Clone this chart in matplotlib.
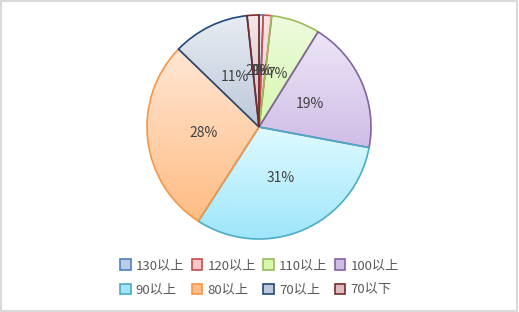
import numpy as np
import matplotlib
matplotlib.use("Agg")
import matplotlib.pyplot as plt
from matplotlib.colors import LinearSegmentedColormap
from matplotlib.patches import Rectangle

plt.rcParams['font.family'] = ['Noto Sans CJK SC', 'DejaVu Sans']

# data (clockwise from 12 o'clock)
labels = ["130以上", "120以上", "110以上", "100以上", "90以上", "80以上", "70以上", "70以下"]
values = [0.6, 1.2, 7, 19, 31, 28, 11, 1.7]
edge_colors = ["#4F81BD", "#C0504D", "#9BBB59", "#8064A2", "#4BACC6", "#F79646", "#1F497D", "#772C2A"]
top_colors = ["#e4ecf7", "#fbe3e3", "#eefadf", "#ede5f7", "#defaff", "#ffe6d3", "#e8ecf2", "#f3e6e6"]
bottom_colors = ["#b9cde8", "#ffc4c4", "#d6f8ad", "#cfbde6", "#9fe6fb", "#ffbd85", "#bcc8da", "#dcbcbc"]

W, H = 519, 312
fig = plt.figure(figsize=(W / 100, H / 100), dpi=100)
ax = fig.add_axes([0, 0, 1, 1])

cx, cy, r = 259, H - 127, 112

wedges, texts, autotexts = ax.pie(
    values, center=(cx, cy), radius=r, startangle=90, counterclock=False,
    autopct='%.0f%%', pctdistance=0.5,
    wedgeprops=dict(linewidth=1.2, facecolor='none'),
    textprops=dict(fontsize=10, color='#404040'), frame=True)
ax.set_xlim(0, W)
ax.set_ylim(0, H)
ax.set_aspect('equal')
ax.axis('off')

# gradient fill per slice, lighter at the top
for w, ec, c0, c1 in zip(wedges, edge_colors, top_colors, bottom_colors):
    w.set_edgecolor(ec)
    w.set_zorder(3)
    bb = w.get_path().get_extents(w.get_patch_transform())
    cmap = LinearSegmentedColormap.from_list('g', [c1, c0])
    grad = np.linspace(0, 1, 64).reshape(-1, 1)
    im = ax.imshow(grad, cmap=cmap, aspect='auto', zorder=2, origin='lower',
                   extent=[bb.x0, bb.x1, bb.y0, bb.y1])
    im.set_clip_path(w)
for t in texts:
    t.set_text('')
for t in autotexts:
    t.set_zorder(5)
ax.set_xlim(0, W)
ax.set_ylim(0, H)

# legend, row-major order
handles = [Rectangle((0, 0), 1, 1, facecolor=c1, edgecolor=ec, linewidth=1.2)
           for ec, c1 in zip(edge_colors, bottom_colors)]
order = [0, 4, 1, 5, 2, 6, 3, 7]
fig.legend([handles[i] for i in order], [labels[i] for i in order],
           ncol=4, loc='center', bbox_to_anchor=(0.5, 0.11),
           frameon=False, fontsize=9.5, labelcolor='#595959',
           handlelength=0.8, handleheight=0.8, handletextpad=0.4,
           columnspacing=0.55, labelspacing=0.85)

fig.patches.append(Rectangle((0.002, 0.004), 0.994, 0.992, transform=fig.transFigure,
                             fill=False, edgecolor='#d9d9d9', linewidth=1.5))

fig.savefig('out.png', dpi=100)
